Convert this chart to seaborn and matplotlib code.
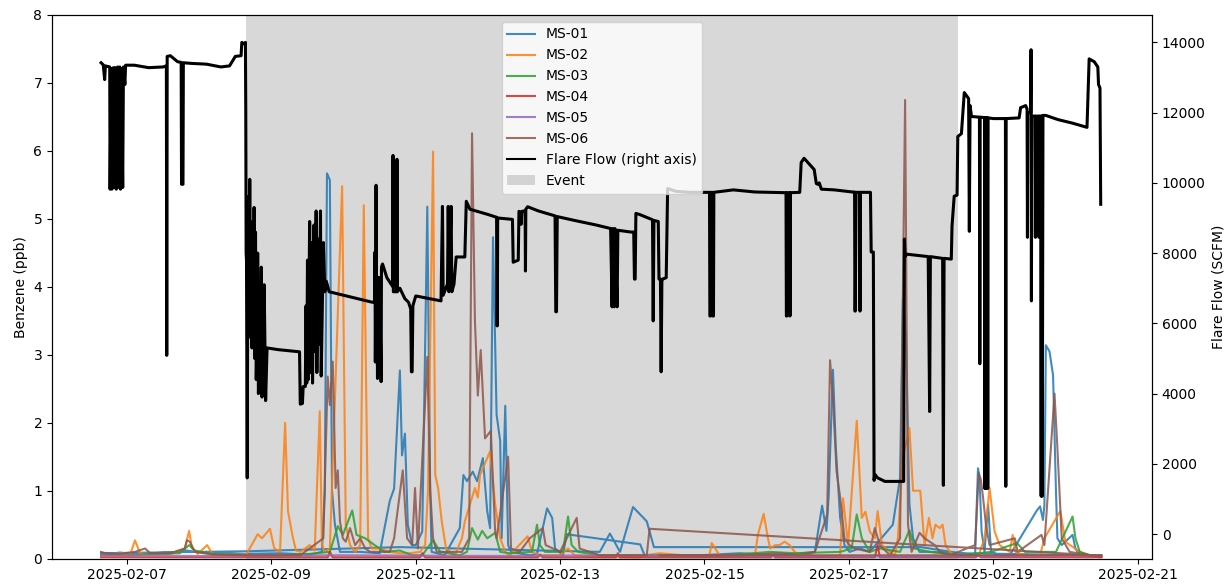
import numpy as np
import pandas as pd
import matplotlib
matplotlib.use("Agg")
import matplotlib.pyplot as plt
import matplotlib.dates as mdates
from matplotlib.lines import Line2D
from matplotlib.patches import Patch
import seaborn as sns

# ---------------- data (day offsets from 2025-02-07 00:00) ----------------
site_names = ["MS-01", "MS-02", "MS-03", "MS-04", "MS-05", "MS-06"]
site_colors = ["#1f77b4", "#ff7f0e", "#2ca02c", "#d62728", "#9467bd", "#8c564b"]

ms01_day = [-0.36, -0.24, -0.10, 0.04, 0.32, 0.60, 0.83, 0.94, 1.29, 1.65, 2.12, 2.53, 2.70, 2.74, 2.77, 2.81,
            2.84, 2.88, 2.95, 3.23, 3.50, 3.64, 3.70, 3.78, 3.81, 3.85, 3.89, 3.95, 4.00, 4.09, 4.16, 4.20,
            4.22, 4.40, 4.61, 4.66, 4.71, 4.79, 4.85, 4.93, 4.99, 5.03, 5.07, 5.12, 5.17, 5.19, 5.24, 5.28,
            5.32, 5.58, 5.68, 5.82, 5.89, 5.93, 6.04, 6.09, 7.11, 7.17, 7.38, 7.94, 8.49, 9.04, 9.53, 9.63,
            9.69, 9.72, 9.78, 9.82, 9.88, 9.94, 10.01, 10.15, 10.29, 10.61, 10.71, 10.75, 10.79, 10.84, 10.89,
            10.98, 11.12, 11.54, 11.75, 11.76, 11.79, 11.81, 11.84, 11.88, 11.93, 11.97, 12.09, 12.23, 12.60,
            12.65, 12.69, 12.71, 12.73, 12.78, 12.83, 12.87, 12.89, 12.95, 13.10, 13.14, 13.20, 13.50,
            11.54, 11.00, 7.30, 7.20, 7.01, 6.83, 6.69, 6.55, 3.78, 1.70, -0.36]
ms01_ppb = [0.08, 0.07, 0.09, 0.07, 0.08, 0.09, 0.12, 0.10, 0.08, 0.07, 0.08, 0.06, 0.10, 1.00, 5.67, 5.57,
            1.00, 0.50, 0.10, 0.10, 0.08, 0.85, 1.03, 2.77, 1.52, 1.84, 0.50, 0.20, 0.20, 0.40, 5.18, 1.00,
            0.10, 0.05, 0.45, 1.23, 1.14, 1.28, 1.14, 1.48, 0.70, 0.45, 4.73, 2.12, 1.73, 0.30, 2.25, 0.20,
            0.10, 0.05, 0.07, 0.74, 0.60, 0.15, 0.05, 0.36, 0.21, 0.05, 0.05, 0.05, 0.08, 0.05, 0.10, 0.78,
            0.41, 0.90, 2.78, 1.63, 0.60, 0.20, 0.10, 0.15, 0.10, 0.50, 1.19, 3.83, 3.30, 0.80, 0.30,
            0.10, 0.10, 0.08, 0.05, 0.40, 1.33, 1.20, 0.40, 0.10, 0.79, 0.10, 0.05, 0.05, 0.70,
            0.77, 0.57, 0.79, 3.14, 3.05, 2.70, 1.00, 0.30, 0.20, 0.35, 0.15, 0.05, 0.05,
            0.08, 0.17, 0.17, 0.55, 0.76, 0.10, 0.37, 0.10, 0.17, 0.11, 0.08]

ms02_day = [-0.36, -0.24, -0.07, 0.04, 0.11, 0.18, 0.32, 0.60, 0.80, 0.86, 0.90, 0.98, 1.11, 1.18, 1.43, 1.65,
            1.70, 1.81, 1.87, 1.98, 2.04, 2.12, 2.19, 2.23, 2.29, 2.34, 2.40, 2.47, 2.53, 2.60, 2.67, 2.70,
            2.74, 2.81, 2.98, 3.03, 3.09, 3.16, 3.23, 3.28, 3.34, 3.39, 3.50, 3.64, 3.78, 3.92, 4.06, 4.13,
            4.17, 4.24, 4.27, 4.31, 4.36, 4.42, 4.54, 4.64, 4.68, 4.82, 4.86, 4.89, 5.03, 5.10, 5.17, 5.24,
            5.30, 5.55, 5.61, 5.72, 6.00, 6.11, 6.20, 6.55, 7.11, 7.17, 7.38, 7.94, 8.07, 8.10, 8.21, 8.70,
            8.74, 8.82, 8.88, 8.91, 8.98, 9.04, 9.11, 9.18, 9.25, 9.32, 9.46, 9.60, 9.88, 9.92, 9.99, 10.11,
            10.18, 10.23, 10.29, 10.36, 10.40, 10.46, 10.57, 10.64, 10.68, 10.75, 10.84, 10.89, 10.99, 11.05,
            11.11, 11.16, 11.20, 11.26, 11.30, 11.34, 11.40, 11.47, 11.80, 11.88, 11.95, 12.02, 12.09, 12.23,
            12.27, 12.31, 12.44, 12.65, 12.71, 12.93, 13.00, 13.20, 13.34, 13.50]
ms02_ppb = [0.05, 0.05, 0.08, 0.05, 0.27, 0.08, 0.06, 0.07, 0.15, 0.41, 0.15, 0.07, 0.20, 0.07, 0.06, 0.06,
            0.15, 0.36, 0.30, 0.44, 0.15, 0.10, 2.00, 0.70, 0.35, 0.12, 0.10, 0.15, 0.20, 0.12, 2.17, 0.20,
            0.10, 0.15, 5.48, 0.50, 0.20, 0.10, 0.20, 5.20, 0.30, 0.15, 0.15, 0.10, 0.08, 0.08, 0.10, 0.20,
            1.00, 5.99, 1.23, 1.04, 0.55, 0.15, 0.05, 0.30, 0.55, 1.04, 0.90, 1.23, 1.58, 0.80, 0.30, 0.10,
            0.05, 0.33, 0.10, 0.05, 0.05, 0.15, 0.05, 0.03, 0.02, 0.05, 0.08, 0.03, 0.05, 0.23, 0.05, 0.05,
            0.35, 0.66, 0.30, 0.15, 0.20, 0.20, 0.25, 0.20, 0.10, 0.05, 0.05, 0.03, 0.05, 0.89, 0.20, 2.03,
            0.60, 0.69, 0.40, 0.30, 0.70, 0.20, 0.10, 0.05, 0.30, 1.50, 1.92, 1.00, 1.00, 0.20,
            0.60, 0.30, 0.50, 0.45, 0.50, 0.20, 0.10, 0.05, 0.05, 0.30, 1.04, 0.40, 0.20, 0.10,
            0.35, 0.10, 0.05, 0.05, 0.30, 0.70, 0.25, 0.10, 0.05, 0.03]

ms03_day = [-0.36, -0.17, 0.11, 0.32, 0.73, 0.86, 0.94, 1.18, 1.65, 2.12, 2.53, 2.81, 2.92, 2.99, 3.12, 3.18,
            3.30, 3.43, 3.57, 3.78, 3.95, 4.09, 4.24, 4.34, 4.61, 4.71, 4.78, 4.86, 4.92, 4.99, 5.10, 5.17,
            5.30, 5.61, 5.68, 5.72, 5.79, 6.04, 6.11, 6.16, 6.25, 6.55, 7.38, 8.21, 8.91, 9.25, 9.88, 10.04,
            10.11, 10.18, 10.29, 10.43, 10.71, 10.84, 10.91, 11.12, 11.54, 11.97, 12.33, 12.44, 12.87, 13.10,
            13.14, 13.20, 13.34, 13.50]
ms03_ppb = [0.06, 0.05, 0.05, 0.07, 0.08, 0.20, 0.12, 0.07, 0.05, 0.05, 0.07, 0.10, 0.48, 0.35, 0.71, 0.35,
            0.30, 0.20, 0.10, 0.12, 0.05, 0.05, 0.27, 0.10, 0.05, 0.10, 0.45, 0.28, 0.41, 0.30, 0.38, 0.10,
            0.08, 0.10, 0.50, 0.20, 0.10, 0.10, 0.62, 0.20, 0.10, 0.05, 0.05, 0.04, 0.10, 0.08, 0.10, 0.15,
            0.65, 0.30, 0.10, 0.15, 0.10, 0.42, 0.15, 0.10, 0.05, 0.10, 0.23, 0.10, 0.10, 0.62,
            0.30, 0.10, 0.05, 0.03]

ms04_day = [-0.36, 1.50, 2.78, 2.81, 2.85, 4.06, 4.09, 4.13, 5.69, 5.72, 5.76, 6.77, 6.80, 6.83, 8.92, 8.95,
            8.98, 10.36, 10.40, 10.43, 11.76, 11.79, 11.83, 13.50]
ms04_ppb = [0.02, 0.02, 0.02, 0.10, 0.02, 0.02, 0.08, 0.02, 0.02, 0.06, 0.02, 0.02, 0.08, 0.02, 0.02, 0.05,
            0.02, 0.02, 0.20, 0.02, 0.02, 0.05, 0.02, 0.02]

ms05_day = [-0.36, 1.00, 3.00, 5.00, 7.00, 9.00, 11.00, 13.50]
ms05_ppb = [0.05, 0.04, 0.05, 0.04, 0.05, 0.04, 0.03, 0.05]

ms06_day = [-0.36, -0.30, -0.10, 0.11, 0.25, 0.32, 0.60, 0.80, 0.83, 0.87, 0.94, 1.18, 1.65, 2.40, 2.72, 2.78,
            2.81, 2.85, 2.89, 2.92, 2.95, 2.99, 3.03, 3.09, 3.16, 3.23, 3.30, 3.37, 3.50, 3.64, 3.70, 3.82,
            3.88, 3.95, 3.99, 4.03, 4.16, 4.20, 4.24, 4.29, 4.50, 4.64, 4.74, 4.78, 4.82, 4.86, 4.90, 4.96,
            5.04, 5.10, 5.12, 5.28, 5.32, 5.44, 5.58, 5.76, 5.80, 6.00, 6.23, 6.27, 6.55, 7.20, 7.24, 13.41,
            7.38, 7.94, 8.49, 9.04, 9.32, 9.53, 9.70, 9.74, 9.78, 9.83, 9.88, 9.94, 10.01, 10.08, 10.29, 10.36,
            10.43, 10.57, 10.71, 10.78, 10.82, 10.87, 10.98, 11.05, 11.19, 11.26, 11.40, 11.75, 11.80, 11.83,
            11.86, 11.90, 11.95, 12.30, 12.34, 12.67, 12.71, 12.85, 12.89, 12.95, 13.06, 13.34, 13.50]
ms06_ppb = [0.10, 0.08, 0.07, 0.10, 0.15, 0.08, 0.08, 0.15, 0.27, 0.25, 0.10, 0.06, 0.05, 0.05, 0.30, 2.68,
            2.26, 2.90, 1.04, 1.30, 0.55, 0.30, 0.25, 0.45, 0.20, 0.30, 0.15, 0.10, 0.10, 0.10, 0.30, 1.30,
            0.30, 0.20, 1.04, 0.15, 2.97, 1.00, 0.30, 0.10, 0.10, 0.10, 0.30, 6.26, 3.50, 2.40, 3.07, 1.77,
            1.88, 0.40, 0.30, 1.50, 0.15, 0.10, 0.30, 0.45, 0.20, 0.10, 0.60, 0.15, 0.05, 0.05, 0.44, 0.05,
            0.05, 0.05, 0.05, 0.08, 0.05, 0.10, 0.65, 2.92, 2.36, 1.29, 0.90, 0.30, 0.20, 0.15, 0.10, 0.45,
            0.20, 0.05, 0.30, 6.75, 0.50, 0.10, 0.38, 0.30, 0.20, 0.10, 0.05, 0.20, 1.26, 1.16,
            0.90, 0.50, 0.20, 0.30, 0.10, 0.35, 0.20, 2.43, 1.63, 0.30, 0.10, 0.05, 0.05]

flare_day = [-0.36, -0.33, -0.31, -0.30, -0.24, -0.235, -0.22, -0.21, -0.19, -0.18, -0.165, -0.15, -0.13, -0.12,
             -0.10, -0.09, -0.08, -0.06, -0.05, -0.03, -0.02, 0.10, 0.30, 0.50, 0.545, 0.550, 0.556, 0.60, 0.70,
             0.75, 0.755, 0.775, 0.78, 0.90, 1.10, 1.30, 1.42, 1.50, 1.58, 1.59, 1.63, 1.64, 1.645,
             1.65, 1.655, 1.665, 1.675, 1.69, 1.70, 1.71, 1.72, 1.73, 1.74, 1.75, 1.76, 1.77, 1.78, 1.79, 1.80,
             1.81, 1.82, 1.84, 1.86, 1.87, 1.88, 1.90, 1.92, 1.94, 2.10, 2.39, 2.40, 2.43, 2.44, 2.47, 2.48,
             2.49, 2.50, 2.51, 2.53, 2.54, 2.56, 2.57, 2.59, 2.60, 2.62, 2.63, 2.65, 2.66, 2.68, 2.69, 2.71,
             2.72, 2.74, 2.76, 2.80, 3.00, 3.20, 3.30, 3.40, 3.43, 3.435, 3.44, 3.445, 3.45, 3.455, 3.46, 3.47,
             3.475, 3.50, 3.52, 3.525, 3.54, 3.60, 3.68, 3.685, 3.69, 3.735, 3.74, 3.745, 3.78, 3.85, 3.90,
             3.93, 3.94, 3.95, 3.96, 4.00, 4.20, 4.35, 4.37, 4.38, 4.44, 4.45, 4.46, 4.49, 4.50, 4.53, 4.56,
             4.68, 4.70, 4.75, 5.00, 5.12, 5.125, 5.13, 5.135, 5.34, 5.35, 5.42, 5.43, 5.455, 5.46, 5.47,
             5.515, 5.52, 5.525, 5.55, 5.70, 5.93, 5.94, 5.95, 5.96, 6.20, 6.50, 6.70, 6.72, 6.73, 6.75, 6.76,
             6.79, 6.80, 6.98, 7.02, 7.03, 7.04, 7.05, 7.10, 7.28, 7.29, 7.30, 7.36, 7.37, 7.39, 7.40, 7.41,
             7.42, 7.47, 7.49, 7.60, 7.80, 8.07, 8.075, 8.085, 8.09, 8.11, 8.115, 8.125, 8.13, 8.40, 8.70,
             9.13, 9.135, 9.145, 9.15, 9.18, 9.185, 9.19, 9.32, 9.34, 9.38, 9.52, 9.55, 9.57, 9.59, 9.62,
             9.80, 10.05, 10.08, 10.085, 10.09, 10.10, 10.15, 10.155, 10.16, 10.30, 10.31, 10.34, 10.35,
             10.36, 10.40, 10.50, 10.76, 10.77, 10.78, 10.80, 11.10, 11.12, 11.13, 11.30, 11.31, 11.32,
             11.42, 11.43, 11.46, 11.50, 11.51, 11.56, 11.60, 11.66, 11.67, 11.68, 11.70, 11.81, 11.815,
             11.82, 11.88, 11.885, 11.89, 11.90, 11.905, 11.92, 11.925, 11.93, 12.00, 12.17, 12.175, 12.18,
             12.36, 12.38, 12.45, 12.47, 12.475, 12.48, 12.52, 12.525, 12.53, 12.535, 12.58, 12.585, 12.59,
             12.63, 12.635, 12.64, 12.66, 12.665, 12.67, 12.68, 12.69, 12.73, 12.90, 13.10, 13.30, 13.33,
             13.40, 13.45, 13.46, 13.48, 13.49]
flare_scfm = [13420, 13360, 12940, 13330, 13300, 9820, 13250, 9820, 13280, 9870, 13280, 9820, 13300, 9870,
              13300, 9820, 13250, 9870, 13300, 12800, 13350, 13350, 13280, 13300, 13330, 5090, 13600, 13620, 13450,
              13430, 9960, 9960, 13420, 13400, 13380, 13300, 13330, 13600, 13620, 14000, 13950, 14000, 12000,
              8000, 7800, 1600, 9600, 6200, 10100, 5600, 7200, 5300, 8900, 5800, 9300, 5000, 8600, 4400, 5500,
              8000, 4000, 5300, 7600, 3900, 5300, 7100, 3800, 5300, 5250, 5190, 3700, 3720, 4200, 4200, 6500,
              4300, 7800, 4400, 8900, 4600, 8300, 4300, 8800, 5200, 9200, 4600, 8400, 5400, 9200, 4500, 7100,
              8300, 6900, 7200, 6900, 6800, 6700, 6650, 6600, 6620, 8030, 4900, 6700, 9930, 6800, 7350, 4430,
              7300, 7300, 4340, 7600, 7690, 7300, 7050, 10780, 6900, 6900, 10670, 6900, 7000, 6700, 6600,
              6410, 4620, 4620, 6500, 6780, 6700, 6640, 9330, 6800, 7120, 9330, 6900, 9330, 6900, 7120, 7890,
              7890, 9475, 9250, 9100, 9020, 5930, 5930, 9000, 8960, 7740, 7800, 9190, 9150, 8820, 9190,
              9200, 7490, 9250, 9320, 9200, 9060, 6330, 6330, 9040, 8930, 8800, 8700, 6470, 8700, 6470, 8700,
              6470, 8650, 8600, 8600, 7260, 7260, 9130, 9100, 8950, 6070, 8930, 8900, 7260, 7260, 4620, 7200,
              7260, 7300, 9840, 9760, 9730, 9730, 6210, 6210, 9730, 9730, 6210, 6210, 9730, 9800, 9740,
              9720, 6210, 6210, 9720, 9720, 6210, 9720, 9730, 10580, 10700, 10380, 9980, 9960, 10000, 9820,
              9800, 9740, 9740, 6350, 6350, 9730, 9730, 6350, 9730, 9730, 8030, 8030, 1530,
              1700, 1600, 1500, 1500, 8400, 7900, 7970, 7900, 3490, 7900, 7850, 1390, 7850,
              7830, 8770, 9620, 9650, 11320, 11400, 12570, 12400, 8620, 12200, 11890, 11870, 4850,
              11870, 11860, 1300, 11860, 1300, 11860, 11850, 1300, 11850, 11830, 11830, 1360, 11830,
              11850, 12140, 12200, 12100, 8450, 12000, 12000, 13790, 6640, 11900, 11900, 8450, 11900,
              11900, 8450, 11900, 11900, 1080, 11900, 1080, 11920, 11920, 11800, 11700, 11580, 13530,
              13450, 13300, 12800, 12700, 9390]

event_start_day = 1.648
event_end_day = 11.51

# ---------------- plot ----------------
base = pd.Timestamp("2025-02-07")


def to_time(days):
    return base + pd.to_timedelta(np.asarray(days, dtype=float), unit="D")


fig, ax1 = plt.subplots(figsize=(12.26, 5.85), dpi=100)
fig.subplots_adjust(left=0.0424, right=0.9396, top=0.9744, bottom=0.045)

ax1.axvspan(to_time([event_start_day])[0], to_time([event_end_day])[0], color="gray", alpha=0.3, zorder=0, lw=0)

series = [(ms01_day, ms01_ppb), (ms02_day, ms02_ppb), (ms03_day, ms03_ppb),
          (ms04_day, ms04_ppb), (ms05_day, ms05_ppb), (ms06_day, ms06_ppb)]
for (d, v), name, col in zip(series, site_names, site_colors):
    sns.lineplot(x=to_time(d), y=v, ax=ax1, color=col, lw=1.5, alpha=0.85,
                 sort=False, estimator=None, legend=False)

ax1.set_ylim(0, 8)
ax1.set_ylabel("Benzene (ppb)")

ax2 = ax1.twinx()
sns.lineplot(x=to_time(flare_day), y=flare_scfm, ax=ax2, color="black", lw=2.2,
             sort=False, estimator=None, legend=False)
ax2.set_ylim(-700, 14780)
ax2.set_ylabel("Flare Flow (SCFM)")

ax1.set_xlim(to_time([-1.04])[0], to_time([14.2])[0])
ax1.xaxis.set_major_locator(mdates.DayLocator(bymonthday=range(1, 32, 2)))
ax1.xaxis.set_major_formatter(mdates.DateFormatter("%Y-%m-%d"))
ax1.tick_params(axis="x", pad=3)
ax1.set_xlabel("")
ax2.set_xlabel("")
ax1.xaxis.label.set_visible(False)
ax2.xaxis.label.set_visible(False)

handles = [Line2D([0], [0], color=c, lw=1.5, alpha=0.85) for c in site_colors]
handles.append(Line2D([0], [0], color="black", lw=1.5))
handles.append(Patch(facecolor="gray", alpha=0.3))
labels = site_names + ["Flare Flow (right axis)", "Event"]
ax2.legend(handles, labels, loc="upper center")

fig.savefig("out.png", dpi=100)
